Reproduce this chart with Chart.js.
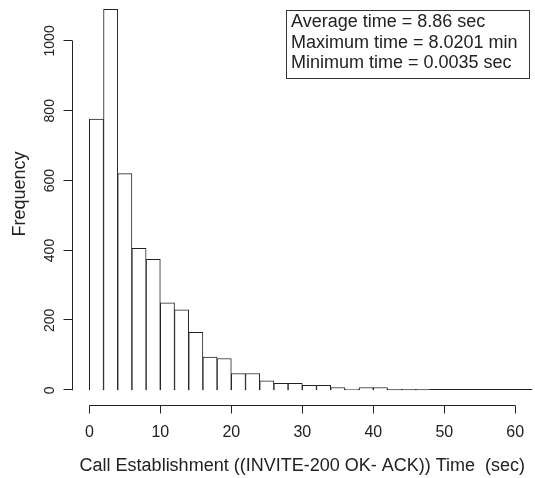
<!DOCTYPE html>
<html>
<head>
<meta charset="utf-8">
<script src="https://cdn.jsdelivr.net/npm/chart.js@4/dist/chart.umd.min.js"></script>
<style>
  html, body { margin: 0; padding: 0; background: #ffffff; }
  #wrap { position: relative; width: 535px; height: 478px; }
  canvas { display: block; }
</style>
</head>
<body>
<div id="wrap"><canvas id="c" width="535" height="478"></canvas></div>
<script>
// Histogram bins (sec): start of each 2-second bin
const binStarts = [0, 2, 4, 6, 8, 10, 12, 14, 16, 18, 20, 22, 24, 26, 28, 30, 32, 34, 36, 38, 40, 42, 44, 46];
const binWidth = 2;
// Frequency of each bin
const counts = [776, 1090, 620, 406, 375, 250, 230, 166, 95, 91, 48, 48, 27, 20, 20, 14, 14, 8, 3, 8, 8, 2, 2, 2];
// Axis ticks
const xTicks = [0, 10, 20, 30, 40, 50, 60];
const yTicks = [0, 200, 400, 600, 800, 1000];
// Texts
const xTitle = "Call Establishment ((INVITE-200 OK- ACK)) Time  (sec)";
const yTitle = "Frequency";
const legendLines = ["Average time = 8.86 sec", "Maximum time = 8.0201 min", "Minimum time = 0.0035 sec"];

const INK = '#222222';
const FONT = '"Liberation Sans", Arial, sans-serif';

const rAxes = {
  id: 'rAxes',
  beforeDatasetsDraw(chart) {
    const ctx = chart.ctx;
    const xs = chart.scales.x, ys = chart.scales.y, ca = chart.chartArea;
    ctx.save();
    ctx.strokeStyle = INK; ctx.lineWidth = 1;
    const y0 = Math.round(ys.getPixelForValue(0)) - 0.5;
    ctx.beginPath();
    ctx.moveTo(xs.getPixelForValue(binStarts[0]), y0);
    ctx.lineTo(ca.right, y0);
    ctx.stroke();
    ctx.restore();
  },
  afterDraw(chart) {
    const ctx = chart.ctx;
    const xs = chart.scales.x, ys = chart.scales.y, ca = chart.chartArea;
    ctx.save();
    ctx.strokeStyle = INK; ctx.fillStyle = INK; ctx.lineWidth = 1;
    // Y axis
    const ax = Math.round(ca.left) + 0.5;
    ctx.beginPath();
    ctx.moveTo(ax, ys.getPixelForValue(yTicks[0]));
    ctx.lineTo(ax, ys.getPixelForValue(yTicks[yTicks.length - 1]));
    yTicks.forEach(v => {
      const p = Math.round(ys.getPixelForValue(v)) - 0.5;
      ctx.moveTo(ax, p); ctx.lineTo(ax - 9, p);
    });
    ctx.stroke();
    ctx.font = '14px ' + FONT;
    ctx.textAlign = 'center'; ctx.textBaseline = 'middle';
    yTicks.forEach(v => {
      const p = ys.getPixelForValue(v);
      ctx.save();
      ctx.translate(50, p);
      ctx.rotate(-Math.PI / 2);
      ctx.fillText(String(v), 0, 0);
      ctx.restore();
    });
    // X axis
    const ay = Math.round(ca.bottom) - 0.5;
    ctx.beginPath();
    ctx.moveTo(xs.getPixelForValue(xTicks[0]), ay);
    ctx.lineTo(xs.getPixelForValue(xTicks[xTicks.length - 1]), ay);
    xTicks.forEach(v => {
      const p = Math.round(xs.getPixelForValue(v)) + 0.5;
      ctx.moveTo(p, ay); ctx.lineTo(p, ay + 8);
    });
    ctx.stroke();
    ctx.font = '16px ' + FONT;
    xTicks.forEach(v => {
      ctx.fillText(String(v), xs.getPixelForValue(v), 433);
    });
    // Titles
    ctx.font = '18px ' + FONT;
    ctx.fillText(xTitle, (ca.left + ca.right) / 2, 466);
    ctx.save();
    ctx.translate(20, 194);
    ctx.rotate(-Math.PI / 2);
    ctx.font = '18px ' + FONT;
    ctx.fillText(yTitle, 0, 0);
    ctx.restore();
    // Legend box
    ctx.strokeStyle = '#333333';
    ctx.strokeRect(286.5, 10.5, 243, 68);
    ctx.textAlign = 'left';
    ctx.font = '18px ' + FONT;
    legendLines.forEach((t, i) => {
      ctx.fillText(t, 291, 22 + i * 20.6);
    });
    ctx.restore();
  }
};

const data = {
  datasets: [{
    data: binStarts.map((s, i) => ({ x: s + binWidth / 2, y: counts[i] })),
    backgroundColor: '#ffffff',
    borderColor: INK,
    borderWidth: { left: 1, top: 1, right: 1, bottom: 0 },
    borderSkipped: false,
    barPercentage: 1,
    categoryPercentage: 1
  }]
};

new Chart(document.getElementById('c'), {
  type: 'bar',
  data: data,
  options: {
    responsive: false,
    devicePixelRatio: 1,
    animation: false,
    layout: { padding: { left: 72.3, right: 2.7, top: 0, bottom: 72.5 } },
    plugins: { legend: { display: false }, tooltip: { enabled: false } },
    scales: {
      x: { type: 'linear', offset: false, min: -2.4, max: 62.4, display: false, ticks: { stepSize: 10 } },
      y: { type: 'linear', min: -43.6, max: 1117, display: false }
    }
  },
  plugins: [rAxes]
});
</script>
</body>
</html>
